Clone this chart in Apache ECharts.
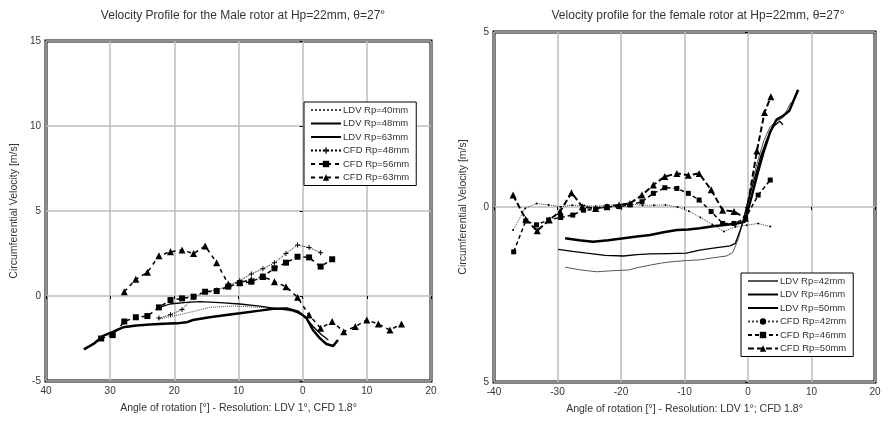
<!DOCTYPE html>
<html>
<head>
<meta charset="utf-8">
<script src="https://cdn.jsdelivr.net/npm/echarts@6/dist/echarts.min.js"></script>
<style>
  html, body { margin: 0; padding: 0; background: #fff; }
  #chart { width: 890px; height: 426px; }
</style>
</head>
<body>
<div id="chart"></div>
<script>
// male rotor, [angle, velocity]
const maleLdv40 = [[22.5,-1.37],[20.2,-1.18],[17.1,-0.92],[14.5,-0.67],[10.8,-0.59],[6.7,-0.67],[3.6,-0.75],[0.4,-1.02],[-1.1,-1.5],[-2.7,-2.2]];
const maleLdv48 = [[22.7,-0.73],[20.7,-0.47],[18.1,-0.37],[16.0,-0.33],[12.9,-0.39],[9.8,-0.47],[6.7,-0.59],[4.6,-0.71],[1.5,-0.86],[-0.3,-1.18],[-1.6,-1.8],[-3.0,-2.29],[-4.0,-2.59]];
const maleLdv63 = [[34.1,-3.14],[32.6,-2.82],[31.1,-2.35],[29.5,-2.1],[28.0,-1.84],[25.9,-1.73],[23.8,-1.67],[21.7,-1.63],[19.6,-1.61],[18.1,-1.55],[17.1,-1.41],[14.5,-1.25],[11.9,-1.12],[9.8,-1.02],[6.7,-0.86],[4.6,-0.75],[2.5,-0.73],[0.7,-0.92],[-0.6,-1.31],[-1.6,-2.0],[-2.7,-2.49],[-3.7,-2.82],[-4.75,-2.94],[-5.5,-2.59]];
const maleCfd48 = [[22.4,-1.3],[20.6,-1.1],[18.8,-0.8],[17.0,-0.1],[15.2,0.25],[13.4,0.35],[11.6,0.6],[9.8,0.9],[8.0,1.3],[6.2,1.6],[4.4,1.95],[2.6,2.5],[0.8,3.0],[-1.0,2.85],[-2.8,2.55]];
const maleCfd56 = [[31.4,-2.5],[29.6,-2.3],[27.8,-1.5],[26.0,-1.25],[24.2,-1.18],[22.4,-0.67],[20.6,-0.24],[18.8,-0.14],[17.0,-0.04],[15.2,0.25],[13.4,0.29],[11.6,0.55],[9.8,0.75],[8.0,0.84],[6.2,1.14],[4.4,1.63],[2.6,1.96],[0.8,2.31],[-1.0,2.27],[-2.8,1.73],[-4.6,2.16]];
const maleCfd63 = [[27.8,0.25],[26.0,0.98],[24.2,1.39],[22.4,2.37],[20.6,2.6],[18.8,2.7],[17.0,2.5],[15.2,2.94],[13.4,1.96],[11.6,0.7],[9.8,0.8],[8.0,0.95],[6.2,1.15],[4.4,0.84],[2.6,0.55],[0.8,-0.08],[-1.0,-1.12],[-2.8,-1.9],[-4.6,-1.5],[-6.4,-2.1],[-8.2,-1.8],[-10.0,-1.41],[-11.8,-1.65],[-13.6,-2.0],[-15.4,-1.65]];

// female rotor
const femLdv42 = [[-28.8,-1.72],[-26.3,-1.8],[-23.8,-1.85],[-21.3,-1.82],[-18.8,-1.8],[-17.1,-1.72],[-15.4,-1.66],[-13.6,-1.6],[-11.8,-1.56],[-9.7,-1.53],[-7.6,-1.51],[-5.5,-1.45],[-3.4,-1.4],[-2.4,-1.3],[-1.5,-0.9],[-0.5,-0.2],[0.5,0.6],[1.5,1.3],[2.5,1.9],[3.5,2.3],[4.5,2.45],[5.5,2.55],[6.8,3.0]];
const femLdv46 = [[-29.9,-1.21],[-27.6,-1.27],[-25.4,-1.32],[-22.5,-1.38],[-19.6,-1.4],[-17.5,-1.36],[-15.4,-1.34],[-12.5,-1.33],[-9.7,-1.32],[-7.6,-1.23],[-5.2,-1.17],[-2.8,-1.11],[-2.0,-1.04],[-1.0,-0.55],[0,0.15],[1,0.8],[2,1.45],[3,1.95],[4,2.3],[5,2.45],[5.5,2.35]];
const femLdv50 = [[-28.8,-0.89],[-26.6,-0.95],[-24.4,-0.99],[-22.0,-0.95],[-19.6,-0.89],[-17.5,-0.84],[-15.4,-0.8],[-13.3,-0.72],[-11.2,-0.66],[-9.4,-0.64],[-7.6,-0.61],[-5.5,-0.55],[-3.4,-0.51],[-1.8,-0.47],[-0.5,-0.42],[0.5,0.25],[1.5,0.95],[2.5,1.6],[3.5,2.15],[4.5,2.5],[5.5,2.6],[6.5,2.75],[7.9,3.35]];
const femCfd42 = [[-37.0,-0.66],[-35.1,-0.04],[-33.3,0.1],[-31.4,0.06],[-29.5,0.01],[-27.7,0.05],[-25.8,0.04],[-24.0,0.02],[-22.2,0.05],[-20.3,0.06],[-18.5,0.08],[-16.6,0.05],[-14.8,0.05],[-13.0,0.06],[-11.1,0.0],[-9.3,-0.12],[-7.5,-0.3],[-5.6,-0.5],[-3.8,-0.7],[-2.0,-0.57],[-0.2,-0.52],[1.6,-0.47],[3.5,-0.56]];
const femCfd46 = [[-36.9,-1.28],[-35.0,-0.4],[-33.3,-0.51],[-31.4,-0.37],[-29.5,-0.3],[-27.6,-0.23],[-25.9,-0.09],[-24.0,-0.07],[-22.2,0.01],[-20.3,0.01],[-18.6,0.06],[-16.7,0.15],[-14.9,0.39],[-13.1,0.55],[-11.2,0.53],[-9.4,0.39],[-7.7,0.2],[-5.8,-0.13],[-4.0,-0.47],[-2.2,-0.47],[-0.4,-0.32],[1.6,0.34],[3.5,0.77]];
const femCfd50 = [[-37.0,0.34],[-35.0,-0.35],[-33.2,-0.68],[-31.3,-0.37],[-29.6,-0.13],[-27.8,0.41],[-26.1,0.01],[-24.0,-0.04],[-22.2,0.01],[-20.3,0.06],[-18.6,0.1],[-16.7,0.34],[-14.9,0.63],[-13.1,0.87],[-11.2,0.96],[-9.4,0.91],[-7.7,0.96],[-5.8,0.49],[-4.0,-0.09],[-2.2,-0.13],[-0.4,-0.32],[1.4,1.6],[2.6,2.7],[3.6,3.15]];

const maleNames = ['LDV Rp=40mm', 'LDV Rp=48mm', 'LDV Rp=63mm', 'CFD Rp=48mm', 'CFD Rp=56mm', 'CFD Rp=63mm'];
const femNames = ['LDV Rp=42mm', 'LDV Rp=46mm', 'LDV Rp=50mm', 'CFD Rp=42mm', 'CFD Rp=46mm', 'CFD Rp=50mm'];

const FONT = 'Liberation Sans, Arial, sans-serif';
const plus = 'path://M0,4H10V6H0ZM4,0H6V10H4Z';

const chart = echarts.init(document.getElementById('chart'));

function mkLine(name, data, idx, style, symbol, size) {
  return {
    name: name,
    type: 'line',
    xAxisIndex: idx,
    yAxisIndex: idx,
    data: data,
    symbol: symbol || 'none',
    symbolSize: size || 0,
    showSymbol: !!symbol,
    lineStyle: Object.assign({ color: '#000' }, style),
    itemStyle: { color: '#000' },
    emphasis: { disabled: true },
    silent: true
  };
}

// LDV entries: hide the legend marker, keep the line
function legendItems(names) {
  return names.map(n => n.indexOf('LDV') === 0
    ? { name: n, itemStyle: { opacity: 0 } }
    : { name: n });
}

const axisCommon = {
  type: 'value',
  axisLine: { show: false },
  axisTick: { show: true, length: 3, lineStyle: { color: '#000' } },
  axisLabel: { color: '#333', fontSize: 10, fontFamily: FONT, margin: 5 },
  splitLine: { show: true, lineStyle: { color: '#bdbdbd', width: 1.5 } },
  nameLocation: 'middle',
  nameTextStyle: { color: '#333', fontSize: 10.5, fontFamily: FONT }
};

const legendCommon = {
  orient: 'vertical',
  align: 'left',
  backgroundColor: '#fff',
  borderColor: '#000',
  borderWidth: 1,
  borderRadius: 0,
  itemWidth: 30,
  itemHeight: 8,
  itemGap: 3.5,
  padding: [3, 7, 3, 6],
  selectedMode: false,
  textStyle: { color: '#333', fontSize: 9.5, fontFamily: FONT, padding: [0, 0, 0, -3] }
};

chart.setOption({
  animation: false,
  title: [
    { text: 'Velocity Profile for the Male rotor at Hp=22mm, θ=27°', left: 238, top: 5, textAlign: 'center',
      textStyle: { color: '#333', fontSize: 12, fontWeight: 'normal', fontFamily: FONT } },
    { text: 'Velocity profile for the female rotor at Hp=22mm, θ=27°', left: 693, top: 5, textAlign: 'center',
      textStyle: { color: '#333', fontSize: 12, fontWeight: 'normal', fontFamily: FONT } }
  ],
  legend: [
    Object.assign({}, legendCommon, { data: legendItems(maleNames), left: 304, top: 102 }),
    Object.assign({}, legendCommon, { data: legendItems(femNames), left: 741, top: 273 })
  ],
  grid: [
    { left: 46, right: 459, top: 41, bottom: 45, show: true, borderWidth: 3, borderColor: '#000', backgroundColor: 'transparent' },
    { left: 494, right: 15, top: 32, bottom: 44, show: true, borderWidth: 3, borderColor: '#000', backgroundColor: 'transparent' }
  ],
  xAxis: [
    Object.assign({}, axisCommon, {
      gridIndex: 0, min: -20, max: 40, interval: 10, inverse: true,
      name: 'Angle of rotation [°] - Resolution: LDV 1°, CFD 1.8°', nameGap: 22,
      axisLabel: Object.assign({}, axisCommon.axisLabel, { formatter: v => String(Math.abs(v)) })
    }),
    Object.assign({}, axisCommon, {
      gridIndex: 1, min: -40, max: 20, interval: 10,
      name: 'Angle of rotation [°] - Resolution: LDV 1°; CFD 1.8°', nameGap: 22
    })
  ],
  yAxis: [
    Object.assign({}, axisCommon, {
      gridIndex: 0, min: -5, max: 15, interval: 5,
      name: 'Circumferential Velocity [m/s]', nameGap: 26
    }),
    Object.assign({}, axisCommon, {
      gridIndex: 1, min: -5, max: 5, interval: 5,
      name: 'Circumferential Velocity [m/s]', nameGap: 25,
      axisLabel: Object.assign({}, axisCommon.axisLabel, { formatter: v => String(Math.abs(v)) })
    })
  ],
  series: [
    mkLine(maleNames[0], maleLdv40, 0, { width: 1, type: 'dotted', color: '#444' }),
    mkLine(maleNames[1], maleLdv48, 0, { width: 1.3 }),
    mkLine(maleNames[2], maleLdv63, 0, { width: 2.5 }),
    mkLine(maleNames[3], maleCfd48, 0, { width: 1, type: 'dotted' }, plus, 5),
    mkLine(maleNames[4], maleCfd56, 0, { width: 1.5, type: [4, 4] }, 'rect', 6),
    mkLine(maleNames[5], maleCfd63, 0, { width: 1.5, type: [4, 4] }, 'triangle', 7),

    mkLine(femNames[0], femLdv42, 1, { width: 1, color: '#555' }),
    mkLine(femNames[1], femLdv46, 1, { width: 1.3 }),
    mkLine(femNames[2], femLdv50, 1, { width: 2.5 }),
    mkLine(femNames[3], femCfd42, 1, { width: 1, type: 'dotted', color: '#444' }, 'circle', 2),
    mkLine(femNames[4], femCfd46, 1, { width: 1.5, type: [4, 3] }, 'rect', 5),
    mkLine(femNames[5], femCfd50, 1, { width: 2, type: [6, 3] }, 'triangle', 7)
  ]
});
</script>
</body>
</html>
